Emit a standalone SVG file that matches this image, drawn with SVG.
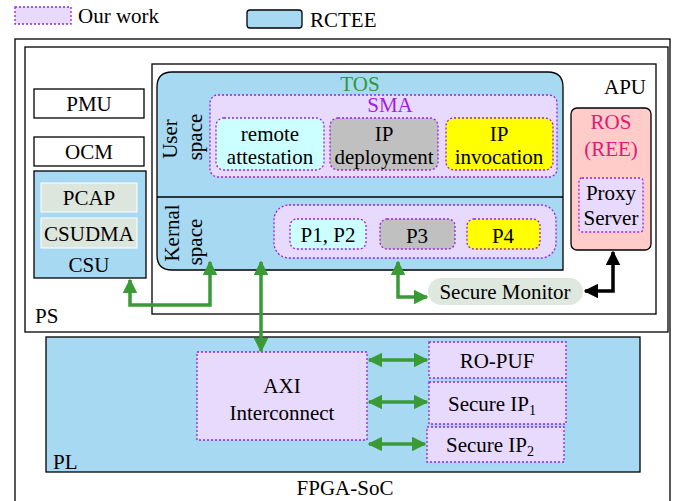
<svg xmlns="http://www.w3.org/2000/svg" width="689" height="501" viewBox="0 0 689 501" font-family="'Liberation Serif', 'DejaVu Serif', serif">
<style>
text{font-family:'Liberation Serif','Times New Roman','DejaVu Serif',serif;font-size:21px;fill:#000}
.c{text-anchor:middle}
.ours{fill:#e8dafc;stroke:#9b1fe8;stroke-width:1.3;stroke-dasharray:2 2}
.blue{fill:#a8d9f2;stroke:#000;stroke-width:1.3}
.plain{fill:#fff;stroke:#000;stroke-width:1.3}
.g{stroke:#3a9a35;stroke-width:3.5;fill:none}
.k{stroke:#000;stroke-width:3.5;fill:none}
</style>
<defs>
<marker id="ag" viewBox="0 0 10 10" refX="9" refY="5" markerWidth="4.2" markerHeight="4.2" orient="auto-start-reverse" markerUnits="strokeWidth"><path d="M0,0 L10,5 L0,10 z" fill="#3a9a35"/></marker>
<marker id="ak" viewBox="0 0 10 10" refX="9" refY="5" markerWidth="4.2" markerHeight="4.2" orient="auto-start-reverse" markerUnits="strokeWidth"><path d="M0,0 L10,5 L0,10 z" fill="#000"/></marker>
</defs>

<g id="legend">
<rect class="ours" x="15" y="7" width="56" height="17"/>
<text x="78" y="23">Our work</text>
<rect class="blue" x="247" y="10" width="55" height="18" rx="3"/>
<text x="310" y="27">RCTEE</text>
</g>

<g id="fpga-soc">
<rect x="15" y="39" width="655" height="470" fill="#fff" stroke="#000" stroke-width="1.3"/>
<text class="c" x="345" y="495">FPGA-SoC</text>
</g>

<g id="ps">
<rect class="plain" x="25" y="47" width="643" height="285"/>
<text x="35" y="323">PS</text>
</g>

<g id="apu">
<rect class="plain" x="152" y="64" width="504" height="250"/>
<text x="604" y="94">APU</text>
</g>

<g id="pmu"><rect class="plain" x="34" y="89" width="110" height="29"/><text class="c" x="89" y="111">PMU</text></g>
<g id="ocm"><rect class="plain" x="34" y="137" width="110" height="29"/><text class="c" x="89" y="159">OCM</text></g>
<g id="csu">
<rect class="blue" x="34" y="171" width="112" height="107"/>
<rect x="41" y="183" width="96" height="29" fill="#dde6dc" stroke="#fff" stroke-width="1"/>
<text class="c" x="89" y="205">PCAP</text>
<rect x="41" y="218" width="96" height="30" fill="#dde6dc" stroke="#fff" stroke-width="1"/>
<text class="c" x="89" y="241">CSUDMA</text>
<text class="c" x="89" y="272">CSU</text>
</g>

<g id="tos">
<path class="blue" d="M172,72 H548 Q563,72 563,87 V270 H172 Q157,270 157,255 V87 Q157,72 172,72 Z"/>
<line x1="157" y1="197" x2="563" y2="197" stroke="#000" stroke-width="1.3"/>
<text class="c" x="360" y="91" style="fill:#2e9a3a">TOS</text>
<text transform="translate(177,139) rotate(-90)" class="c">User</text>
<text transform="translate(202,137) rotate(-90)" class="c">space</text>
<text transform="translate(179,233) rotate(-90)" class="c">Kernal</text>
<text transform="translate(202,242) rotate(-90)" class="c">space</text>
</g>

<g id="sma">
<rect class="ours" x="210" y="95" width="347" height="82" rx="8"/>
<text class="c" x="390" y="112" style="fill:#a21ce6">SMA</text>
</g>
<g id="remote-attestation">
<rect class="ours" x="216" y="118" width="108" height="52" rx="8" style="fill:#ccffff"/>
<text class="c" x="270" y="141">remote</text><text class="c" x="270" y="164">attestation</text>
</g>
<g id="ip-deployment">
<rect class="ours" x="330" y="118" width="108" height="52" rx="8" style="fill:#c0c0c0"/>
<text class="c" x="384" y="141">IP</text><text class="c" x="384" y="164">deployment</text>
</g>
<g id="ip-invocation">
<rect class="ours" x="446" y="118" width="107" height="52" rx="8" style="fill:#ffff00"/>
<text class="c" x="499" y="141">IP</text><text class="c" x="499" y="164">invocation</text>
</g>

<g id="kernel-modules">
<rect class="ours" x="274" y="205" width="282" height="53" rx="15"/>
</g>
<g id="p1p2"><rect class="ours" x="290" y="219" width="76" height="30" rx="7" style="fill:#ccffff"/><text class="c" x="328" y="242">P1, P2</text></g>
<g id="p3"><rect class="ours" x="380" y="219" width="75" height="30" rx="7" style="fill:#c0c0c0"/><text class="c" x="417" y="243">P3</text></g>
<g id="p4"><rect class="ours" x="467" y="219" width="73" height="30" rx="7" style="fill:#ffff00"/><text class="c" x="503" y="243">P4</text></g>

<g id="ros">
<rect x="571" y="108" width="80" height="142" rx="6" fill="#ffccc9" stroke="#000" stroke-width="1.3"/>
<text class="c" x="611" y="129" style="fill:#e0187a">ROS</text>
<text class="c" x="611" y="156" style="fill:#e0187a">(REE)</text>
</g>
<g id="proxy-server">
<rect class="ours" x="579" y="178" width="64" height="54" rx="3"/>
<text class="c" x="611" y="200">Proxy</text><text class="c" x="611" y="225">Server</text>
</g>

<g id="secure-monitor">
<rect x="428" y="278" width="155" height="27" rx="13.5" fill="#dfe8df"/>
<text class="c" x="505" y="299">Secure Monitor</text>
</g>

<g id="pl">
<rect class="blue" x="46" y="337" width="594" height="135"/>
<text x="53" y="469">PL</text>
</g>
<g id="axi"><rect class="ours" x="197" y="352" width="170" height="88"/><text class="c" x="282" y="393">AXI</text><text class="c" x="282" y="420">Interconnect</text></g>
<g id="ro-puf"><rect class="ours" x="429" y="342" width="137" height="36"/><text class="c" x="497" y="368">RO-PUF</text></g>
<g id="secure-ip1"><rect class="ours" x="429" y="382" width="137" height="42"/><text class="c" x="492" y="411">Secure IP<tspan font-size="14" dy="4">1</tspan></text></g>
<g id="secure-ip2"><rect class="ours" x="427" y="427" width="137" height="35"/><text class="c" x="490" y="452">Secure IP<tspan font-size="14" dy="4">2</tspan></text></g>

<g id="connectors">
<path class="g" d="M130,280 V305 H210 V262" marker-start="url(#ag)" marker-end="url(#ag)"/>
<path class="g" d="M261,262 V351" marker-start="url(#ag)" marker-end="url(#ag)"/>
<path class="g" d="M398,262 V297 H427" marker-start="url(#ag)" marker-end="url(#ag)"/>
<path class="k" d="M585,291 H613 V252" marker-start="url(#ak)" marker-end="url(#ak)"/>
<path class="g" d="M369,360 H427" marker-start="url(#ag)" marker-end="url(#ag)"/>
<path class="g" d="M369,402 H427" marker-start="url(#ag)" marker-end="url(#ag)"/>
<path class="g" d="M369,444 H425" marker-start="url(#ag)" marker-end="url(#ag)"/>
</g>
</svg>
